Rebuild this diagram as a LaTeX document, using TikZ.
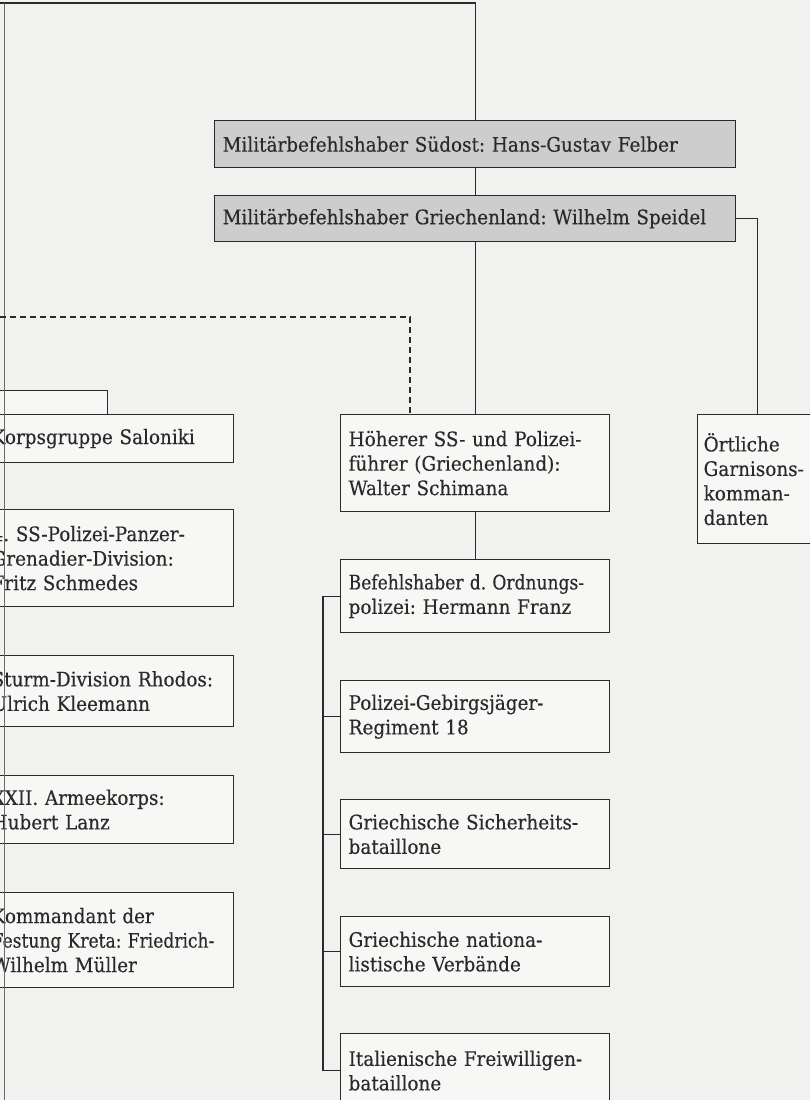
\documentclass[tikz,border=0pt]{standalone}
\usepackage{fontspec}
\setmainfont{DejaVu Serif}[FakeStretch=0.92, FakeBold=0.3]
\usepackage{graphicx}
\usepackage{tikz}
\usetikzlibrary{positioning, calc}

\definecolor{paper}{HTML}{F1F1F0}
\definecolor{ink}{HTML}{2A2A2A}
\definecolor{hqfill}{HTML}{CDCDCD}

\newcommand{\narrowline}[1]{\scalebox{0.93}[1]{#1}}

\begin{document}
\frenchspacing
\begin{tikzpicture}[
  x=1pt, y=-1pt,
  unit/.style={
    draw=ink,
    line width=1.3pt,
    fill=paper!60!white,
    text=ink,
    anchor=north west,
    inner xsep=8pt,
    inner ysep=0pt,
    align=left,
    font=\fontsize{20}{24.5}\selectfont,
  },
  hq/.style={
    unit,
    fill=hqfill,
    text width=505pt,
  },
  link/.style={
    draw=ink,
    line width=1.3pt,
  },
]

\useasboundingbox (0,0) rectangle (810,1100);
\clip (0,0) rectangle (810,1100);
\fill[paper] (0,0) rectangle (810,1100);

% ============================================================
% TOP: military commanders
% ============================================================
\node[hq, minimum height=47pt] (suedost) at (214,120)
  {Militärbefehlshaber Südost: Hans-Gustav Felber};
\node[hq, minimum height=46pt] (griechenland) at (214,195)
  {Militärbefehlshaber Griechenland: Wilhelm Speidel};

% ============================================================
% LEFT COLUMN: army units (cut at the page edge)
% ============================================================
\node[unit, text width=121pt, minimum height=24pt] (behind) at (-30,390) {};
\node[unit, text width=234pt, minimum height=48pt] (korps) at (-17,414)
  {Korpsgruppe Saloniki};
\node[unit, text width=234pt, minimum height=97pt] (sspol) at (-17,509)
  {4. SS-Polizei-Panzer-\\Grenadier-Division:\\Fritz Schmedes};
\node[unit, text width=234pt, minimum height=71pt] (rhodos) at (-17,655)
  {Sturm-Division Rhodos:\\Ulrich Kleemann};
\node[unit, text width=234pt, minimum height=68pt] (lanz) at (-17,775)
  {XXII. Armeekorps:\\Hubert Lanz};
\node[unit, text width=234pt, minimum height=95pt] (kreta) at (-17,892)
  {Kommandant der\\\narrowline{Festung Kreta: Friedrich-}\\Wilhelm Müller};

% ============================================================
% MIDDLE COLUMN: SS and police
% ============================================================
\node[unit, text width=253pt, minimum height=97pt] (hsspf) at (340,414)
  {Höherer SS- und Polizei-\\führer (Griechenland):\\Walter Schimana};
\node[unit, text width=253pt, minimum height=73pt] (bdo) at (340,559)
  {\narrowline{Befehlshaber d. Ordnungs-}\\polizei: Hermann Franz};
\node[unit, text width=253pt, minimum height=72pt] (gebjaeger) at (340,680)
  {Polizei-Gebirgsjäger-\\Regiment 18};
\node[unit, text width=253pt, minimum height=69pt] (sicherheit) at (340,799)
  {Griechische Sicherheits-\\bataillone};
\node[unit, text width=253pt, minimum height=70pt] (national) at (340,916)
  {Griechische nationa-\\listische Verbände};
\node[unit, text width=253pt, minimum height=74pt] (freiwillige) at (340,1033)
  {Italienische Freiwilligen-\\bataillone};

% ============================================================
% RIGHT: garrisons
% ============================================================
\node[unit, inner xsep=6pt, text width=108pt, minimum height=129pt] (garnison) at (697,414)
  {Örtliche\\Garnisons-\\komman-\\danten};

% ============================================================
% CONNECTORS
% ============================================================
\coordinate (feed) at (0,3);
\coordinate (railtop) at (4,3);
\coordinate (railbot) at (4,1100);
\coordinate (sslink) at (0,317);

\draw[link] (feed) -| (suedost.north);
\draw[link, line width=0.9pt, ink!70] (railtop) -- (railbot);
\draw[link] (suedost.south) -- (griechenland.north);
\draw[link] (griechenland.south) -- (hsspf.north);
\draw[link] (griechenland.east) -| (garnison.north);
\draw[link, dash pattern=on 6pt off 4pt] (sslink) -| ([xshift=70pt]hsspf.north west);
\draw[link] (hsspf.south) -- (bdo.north);

% police bus on the left of the column
\draw[link] (bdo.west) -- ++(-17,0) coordinate (bus);
\foreach \n in {gebjaeger, sicherheit, national, freiwillige}
  \draw[link] (bus) |- (\n.west);

\end{tikzpicture}
\end{document}
